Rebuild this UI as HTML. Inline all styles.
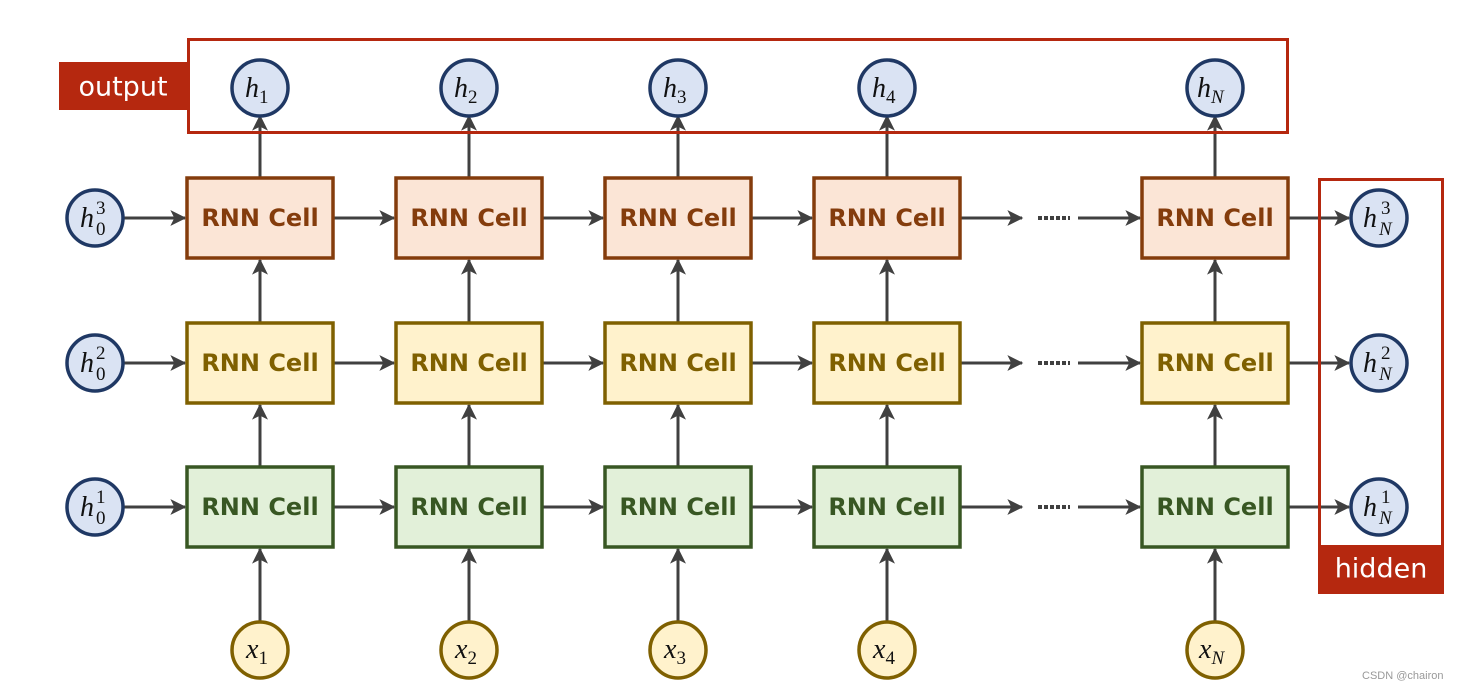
<!DOCTYPE html>
<html><head><meta charset="utf-8"><style>body{margin:0;background:#fff}svg{display:block}
.m{font-family:"Liberation Serif",serif;font-style:italic;font-size:28px;fill:#111}
.s{font-family:"Liberation Serif",serif;font-size:19px;fill:#111}
.c{font-family:"DejaVu Sans",sans-serif;font-weight:bold;font-size:24px;text-anchor:middle;dominant-baseline:central}
</style></head><body>
<svg width="1465" height="689" viewBox="0 0 1465 689" xmlns="http://www.w3.org/2000/svg">
<defs>
<marker id="b" viewBox="0 0 12 12" refX="11" refY="6" markerWidth="16" markerHeight="16" markerUnits="userSpaceOnUse" orient="auto"><path d="M0,0 L12,6 L0,12 L3,6z" fill="#404040"/></marker></defs>
<g stroke="#404040" stroke-width="3" fill="none" marker-end="url(#b)">
<path d="M260 178V116"/><path d="M469 178V116"/><path d="M678 178V116"/><path d="M887 178V116"/><path d="M1215 178V116"/>
<path d="M260 323V260"/><path d="M469 323V260"/><path d="M678 323V260"/><path d="M887 323V260"/><path d="M1215 323V260"/>
<path d="M260 467V405"/><path d="M469 467V405"/><path d="M678 467V405"/><path d="M887 467V405"/><path d="M1215 467V405"/>
<path d="M260 622V549"/><path d="M469 622V549"/><path d="M678 622V549"/><path d="M887 622V549"/><path d="M1215 622V549"/>
</g>
<g stroke="#404040" stroke-width="3" fill="none" marker-end="url(#b)">
<path d="M123 218H185"/><path d="M123 363H185"/><path d="M123 507H185"/>
<path d="M333 218H394"/><path d="M542 218H603"/><path d="M751 218H812"/><path d="M960 218H1022"/><path d="M1078 218H1140"/><path d="M1288 218H1349"/>
<path d="M333 363H394"/><path d="M542 363H603"/><path d="M751 363H812"/><path d="M960 363H1022"/><path d="M1078 363H1140"/><path d="M1288 363H1349"/>
<path d="M333 507H394"/><path d="M542 507H603"/><path d="M751 507H812"/><path d="M960 507H1022"/><path d="M1078 507H1140"/><path d="M1288 507H1349"/>
</g>
<g stroke="#404040" stroke-width="4" stroke-dasharray="4,2"><path d="M1038 218H1070M1038 363H1070M1038 507H1070"/></g>
<g stroke-width="3.5">
<g fill="#fbe5d6" stroke="#843c0c"><rect x="187" y="178" width="146" height="80"/><rect x="396" y="178" width="146" height="80"/><rect x="605" y="178" width="146" height="80"/><rect x="814" y="178" width="146" height="80"/><rect x="1142" y="178" width="146" height="80"/></g>
<g fill="#fff2cc" stroke="#7f6000"><rect x="187" y="323" width="146" height="80"/><rect x="396" y="323" width="146" height="80"/><rect x="605" y="323" width="146" height="80"/><rect x="814" y="323" width="146" height="80"/><rect x="1142" y="323" width="146" height="80"/></g>
<g fill="#e2f0d9" stroke="#385723"><rect x="187" y="467" width="146" height="80"/><rect x="396" y="467" width="146" height="80"/><rect x="605" y="467" width="146" height="80"/><rect x="814" y="467" width="146" height="80"/><rect x="1142" y="467" width="146" height="80"/></g>
</g>
<g fill="#843c0c"><text x="260" y="218" class="c">RNN Cell</text><text x="469" y="218" class="c">RNN Cell</text><text x="678" y="218" class="c">RNN Cell</text><text x="887" y="218" class="c">RNN Cell</text><text x="1215" y="218" class="c">RNN Cell</text></g>
<g fill="#7f6000"><text x="260" y="363" class="c">RNN Cell</text><text x="469" y="363" class="c">RNN Cell</text><text x="678" y="363" class="c">RNN Cell</text><text x="887" y="363" class="c">RNN Cell</text><text x="1215" y="363" class="c">RNN Cell</text></g>
<g fill="#385723"><text x="260" y="507" class="c">RNN Cell</text><text x="469" y="507" class="c">RNN Cell</text><text x="678" y="507" class="c">RNN Cell</text><text x="887" y="507" class="c">RNN Cell</text><text x="1215" y="507" class="c">RNN Cell</text></g>
<rect x="188.5" y="39.5" width="1099" height="93" fill="none" stroke="#b5280f" stroke-width="3"/>
<rect x="59" y="62" width="129" height="48" fill="#b5280f"/>
<text x="123" y="87" fill="#fff" font-family="DejaVu Sans,sans-serif" font-size="27" text-anchor="middle" dominant-baseline="central">output</text>
<rect x="1319.5" y="179.5" width="123" height="412" fill="none" stroke="#b5280f" stroke-width="3"/>
<rect x="1318" y="545" width="126" height="49" fill="#b5280f"/>
<text x="1381" y="569" fill="#fff" font-family="DejaVu Sans,sans-serif" font-size="27" text-anchor="middle" dominant-baseline="central">hidden</text>
<g fill="#dae3f3" stroke="#1f3864" stroke-width="3.5">
<circle cx="260" cy="88" r="28"/><circle cx="469" cy="88" r="28"/><circle cx="678" cy="88" r="28"/><circle cx="887" cy="88" r="28"/><circle cx="1215" cy="88" r="28"/>
<circle cx="95" cy="218" r="28"/><circle cx="95" cy="363" r="28"/><circle cx="95" cy="507" r="28"/>
<circle cx="1379" cy="218" r="28"/><circle cx="1379" cy="363" r="28"/><circle cx="1379" cy="507" r="28"/>
</g>
<g fill="#fff2cc" stroke="#7f6000" stroke-width="3.5">
<circle cx="260" cy="650" r="28"/><circle cx="469" cy="650" r="28"/><circle cx="678" cy="650" r="28"/><circle cx="887" cy="650" r="28"/><circle cx="1215" cy="650" r="28"/>
</g>
<g>
<text x="245" y="97" class="m">h<tspan class="s" font-style="normal" dy="6">1</tspan></text>
<text x="454" y="97" class="m">h<tspan class="s" font-style="normal" dy="6">2</tspan></text>
<text x="663" y="97" class="m">h<tspan class="s" font-style="normal" dy="6">3</tspan></text>
<text x="872" y="97" class="m">h<tspan class="s" font-style="normal" dy="6">4</tspan></text>
<text x="1197" y="97" class="m">h<tspan class="s" dy="6">N</tspan></text>
<text x="246" y="658" class="m">x<tspan class="s" font-style="normal" dy="6">1</tspan></text>
<text x="455" y="658" class="m">x<tspan class="s" font-style="normal" dy="6">2</tspan></text>
<text x="664" y="658" class="m">x<tspan class="s" font-style="normal" dy="6">3</tspan></text>
<text x="873" y="658" class="m">x<tspan class="s" font-style="normal" dy="6">4</tspan></text>
<text x="1199" y="658" class="m">x<tspan class="s" dy="6">N</tspan></text>
</g>
<g>
<text x="80" y="227" class="m">h</text><text x="96" y="214" class="s">3</text><text x="96" y="235" class="s">0</text>
<text x="80" y="372" class="m">h</text><text x="96" y="359" class="s">2</text><text x="96" y="380" class="s">0</text>
<text x="80" y="516" class="m">h</text><text x="96" y="503" class="s">1</text><text x="96" y="524" class="s">0</text>
<text x="1363" y="227" class="m">h</text><text x="1381" y="214" class="s">3</text><text x="1379" y="235" class="s" font-style="italic">N</text>
<text x="1363" y="372" class="m">h</text><text x="1381" y="359" class="s">2</text><text x="1379" y="380" class="s" font-style="italic">N</text>
<text x="1363" y="516" class="m">h</text><text x="1381" y="503" class="s">1</text><text x="1379" y="524" class="s" font-style="italic">N</text>
</g>
<text x="1362" y="679" font-family="Liberation Sans,sans-serif" font-size="11" fill="#999">CSDN @chairon</text>
</svg>
</body></html>
